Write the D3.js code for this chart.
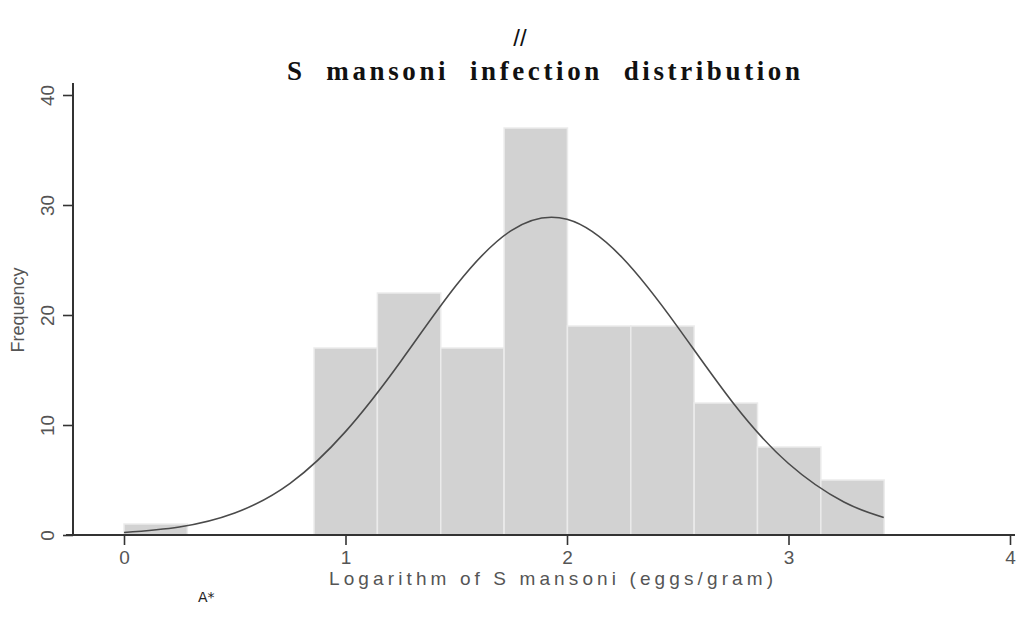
<!DOCTYPE html>
<html>
<head>
<meta charset="utf-8">
<script src="https://cdn.jsdelivr.net/npm/d3@7"></script>
<style>
  body { margin: 0; background: #fff; }
  svg { display: block; }
</style>
</head>
<body>
<div id="chart"></div>
<script>
// histogram bins (log10 eggs/gram), width
const binStart = 0;
const binWidth = 0.286;
const counts = [1, 0, 0, 17, 22, 17, 37, 19, 19, 12, 8, 5];

// normal overlay, values
const curveX = [0, 0.25, 0.5, 0.75, 1.0, 1.25, 1.5, 1.75, 2.0, 2.25, 2.5, 2.75, 3.0, 3.25, 3.43];
const curveY = [0.23, 0.73, 2.0, 4.7, 9.4, 15.8, 22.7, 27.7, 28.7, 25.2, 18.9, 12.0, 6.5, 3.0, 1.6];

const xTicks = [0, 1, 2, 3, 4];
const yTicks = [0, 10, 20, 30, 40];

const width = 1021, height = 623;
const svg = d3.select('#chart').append('svg')
    .attr('width', width)
    .attr('height', height);

const x = d3.scaleLinear().domain([0, 4]).range([124, 1010]);
const y = d3.scaleLinear().domain([0, 40]).range([535, 95]);

// barras
const bins = counts.map((c, i) => ({ x0: binStart + i * binWidth, x1: binStart + (i + 1) * binWidth, n: c }))
    .filter(d => d.n > 0);

svg.selectAll('.bar')
    .data(bins)
    .enter().append('rect')
    .attr('class', 'bar')
    .attr('x', d => x(d.x0))
    .attr('y', d => y(d.n))
    .attr('width', d => x(d.x1) - x(d.x0))
    .attr('height', d => y(0) - y(d.n))
    .style('fill', '#d2d2d2')
    .style('stroke', '#ebebeb')
    .style('stroke-width', 1.5);

// curva normal
const line = d3.line()
    .x(d => x(d[0]))
    .y(d => y(d[1]))
    .curve(d3.curveNatural);

svg.append('path')
    .datum(curveX.map((v, i) => [v, curveY[i]]))
    .attr('d', line)
    .style('fill', 'none')
    .style('stroke', '#4a4a4a')
    .style('stroke-width', 1.6);

// eje y
const yAxis = svg.append('g')
    .attr('transform', 'translate(73,0)')
    .call(d3.axisLeft(y).tickValues(yTicks).tickSize(10).tickSizeOuter(0));
yAxis.select('.domain').remove();
yAxis.append('line')
    .attr('x1', 0).attr('x2', 0)
    .attr('y1', y(0)).attr('y2', y(41.1))
    .style('stroke', '#333').style('stroke-width', 2);
yAxis.selectAll('.tick line').style('stroke', '#333').style('stroke-width', 1.6);
yAxis.selectAll('.tick text')
    .attr('transform', 'rotate(-90)')
    .attr('x', 0)
    .attr('y', -26)
    .attr('dy', '0.35em')
    .attr('text-anchor', 'middle')
    .style('font-family', 'Liberation Sans, Arial, sans-serif')
    .style('font-size', '19px')
    .style('fill', '#555');

// eje x
const xAxis = svg.append('g')
    .attr('transform', `translate(0,${y(0)})`)
    .call(d3.axisBottom(x).tickValues(xTicks).tickFormat(d3.format('d'))
        .tickSize(10).tickSizeOuter(0).tickPadding(6));
xAxis.select('.domain').remove();
xAxis.append('line')
    .attr('x1', 66).attr('x2', 1015)
    .attr('y1', 0).attr('y2', 0)
    .style('stroke', '#333').style('stroke-width', 2);
xAxis.selectAll('.tick line').style('stroke', '#333').style('stroke-width', 1.6);
xAxis.selectAll('.tick text')
    .style('font-family', 'Liberation Sans, Arial, sans-serif')
    .style('font-size', '19px')
    .style('fill', '#555');

// titulos
svg.append('text')
    .attr('x', 520).attr('y', 46)
    .attr('text-anchor', 'middle')
    .style('font-family', 'Liberation Sans Narrow, Liberation Sans, sans-serif')
    .style('font-size', '24px')
    .style('fill', '#111')
    .text('//');

svg.append('text')
    .attr('x', 287).attr('y', 80)
    .attr('textLength', 513)
    .attr('lengthAdjust', 'spacing')
    .style('white-space', 'pre')
    .style('font-family', 'Liberation Serif, Times New Roman, serif')
    .style('font-weight', 'bold')
    .style('font-size', '27px')
    .style('fill', '#111')
    .text('S  mansoni  infection  distribution');

svg.append('text')
    .attr('transform', 'translate(24,310) rotate(-90)')
    .attr('text-anchor', 'middle')
    .style('font-family', 'Liberation Sans, Arial, sans-serif')
    .style('font-size', '18px')
    .style('fill', '#555')
    .text('Frequency');

svg.append('text')
    .attr('x', 329).attr('y', 585)
    .attr('textLength', 444)
    .attr('lengthAdjust', 'spacing')
    .style('font-family', 'Liberation Sans, Arial, sans-serif')
    .style('font-size', '19px')
    .style('fill', '#555')
    .text('Logarithm of S mansoni (eggs/gram)');

svg.append('text')
    .attr('x', 198).attr('y', 602)
    .style('font-family', 'DejaVu Sans, sans-serif')
    .style('font-size', '14px')
    .style('fill', '#222')
    .text('A*');
</script>
</body>
</html>
